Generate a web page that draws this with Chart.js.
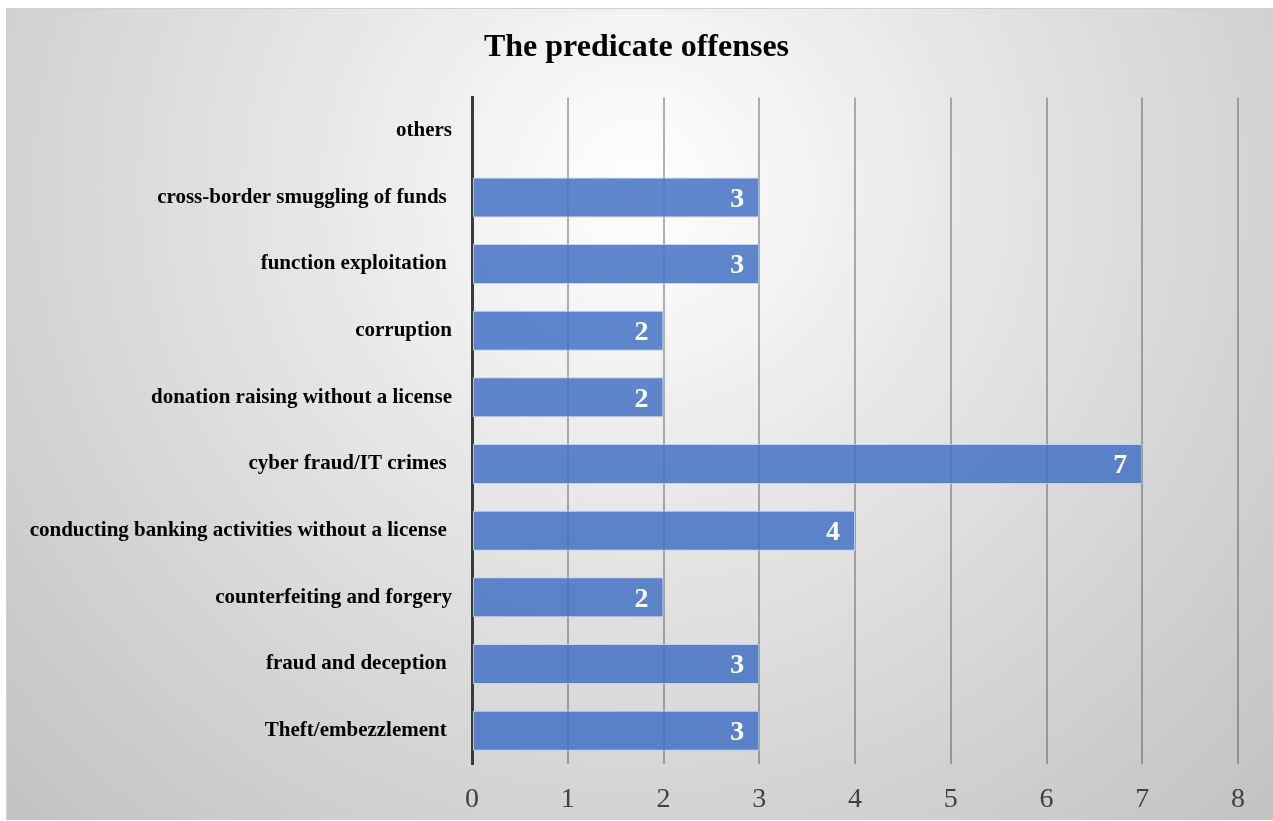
<!DOCTYPE html>
<html lang="en">
<head>
    <meta charset="UTF-8">
    <title>The predicate offenses</title>
    <script src="https://cdn.jsdelivr.net/npm/chart.js"></script>
    <style>
        body {
            margin: 0;
            background: #ffffff;
        }

        #frame {
            position: absolute;
            left: 6px;
            top: 8px;
            width: 1267px;
            height: 812px;
            border-top: 1px solid #d0d0d0;
            border-left: 1px solid #d0d0d0;
            box-sizing: border-box;
            background: radial-gradient(ellipse farthest-corner at 50% 22%, #ffffff 0%, #e8e8e8 35%, #d6d6d6 65%, #c2c2c2 100%);
        }

        #wrap {
            position: absolute;
            left: 0;
            top: 0;
            width: 1273px;
            height: 821px;
        }
    </style>
</head>
<body>
    <div id="frame"></div>
    <div id="wrap">
        <canvas id="chart" width="1273" height="821"></canvas>
    </div>

    <script>
        // categories top to bottom, as in the picture
        const categories = [
            "others",
            "cross-border smuggling of funds ",
            "function exploitation ",
            "corruption",
            "donation raising without a license",
            "cyber fraud/IT crimes ",
            "conducting banking activities without a license ",
            "counterfeiting and forgery",
            "fraud and deception ",
            "Theft/embezzlement "
        ];
        const counts = [null, 3, 3, 2, 2, 7, 4, 2, 3, 3];
        const xTicks = [0, 1, 2, 3, 4, 5, 6, 7, 8];

        const serif = "'Liberation Serif', 'Times New Roman', serif";

        // white numbers at the end of each bar
        const barLabels = {
            id: "barLabels",
            afterDatasetsDraw(chart) {
                const ctx = chart.ctx;
                const meta = chart.getDatasetMeta(0);
                ctx.save();
                ctx.fillStyle = "#ffffff";
                ctx.font = "bold 28px " + serif;
                ctx.textAlign = "right";
                ctx.textBaseline = "middle";
                meta.data.forEach((bar, i) => {
                    const v = counts[i];
                    if (v === null || v === undefined) return;
                    ctx.fillText(String(v), bar.x - 15, bar.y + 2);
                });
                ctx.restore();
            }
        };

        new Chart(document.getElementById("chart"), {
            type: "bar",
            data: {
                labels: categories,
                datasets: [{
                    data: counts,
                    backgroundColor: "rgba(68, 114, 196, 0.85)",
                    borderColor: "rgba(190, 208, 240, 0.9)",
                    borderWidth: 1,
                    borderSkipped: false,
                    barPercentage: 0.6,
                    categoryPercentage: 1.0
                }]
            },
            options: {
                indexAxis: "y",
                responsive: false,
                animation: false,
                layout: {
                    padding: { left: 0, right: 0, top: 0, bottom: 0 }
                },
                plugins: {
                    legend: { display: false },
                    tooltip: { enabled: false },
                    title: {
                        display: true,
                        text: "The predicate offenses",
                        color: "#000000",
                        font: { family: serif, size: 32, weight: "bold" },
                        padding: { top: 29, bottom: 30 }
                    }
                },
                scales: {
                    x: {
                        min: 0,
                        // a little room past the last tick, like the plot area in the picture
                        max: 8.365,
                        afterBuildTicks: (scale) => {
                            scale.ticks = xTicks.map(v => ({ value: v }));
                        },
                        afterFit: (scale) => {
                            scale.height = 57;
                        },
                        grid: {
                            color: "rgba(64, 64, 64, 0.4)",
                            lineWidth: 2,
                            drawTicks: false
                        },
                        border: { display: false },
                        ticks: {
                            color: "#404040",
                            padding: 19,
                            font: { family: serif, size: 28 }
                        }
                    },
                    y: {
                        afterFit: (scale) => {
                            scale.width = 472;
                        },
                        grid: { display: false, drawTicks: false },
                        border: { display: true, color: "#3a3a3a", width: 3 },
                        ticks: {
                            color: "#000000",
                            padding: 20,
                            font: { family: serif, size: 21, weight: "bold" }
                        }
                    }
                }
            },
            plugins: [barLabels]
        });
    </script>
</body>
</html>
